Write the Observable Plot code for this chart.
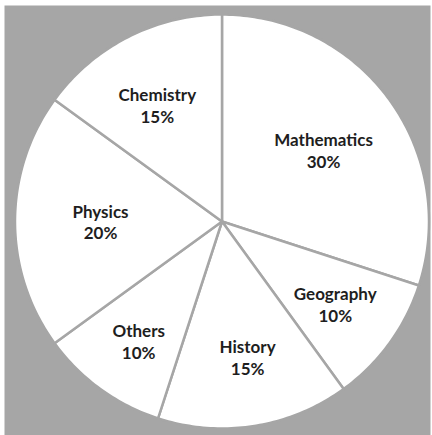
<!DOCTYPE html>
<html><head><meta charset="utf-8">
<script src="https://cdn.jsdelivr.net/npm/d3@7"></script>
<script src="https://cdn.jsdelivr.net/npm/@observablehq/plot@0.6"></script>
<style>body{margin:0;background:#fff}</style>
</head><body><div id="chart"></div>
<script>
const subjects = ["Mathematics","Geography","History","Others","Physics","Chemistry"];
const shares = [30,10,15,10,20,15];

// layout constants (pixels)
const W = 432, H = 435;
const CX = 221.5, CY = 221, R = 207;
// label placement tweaks: [angle offset in degrees, radius]
const labelTweak = [[1,124],[0,140],[-1.7,138],[-1.2,146],[0,121.5],[-2.1,133]];

const total = d3.sum(shares);
let acc = 0;
const slices = subjects.map((s,i)=>{
  const a0 = acc/total*360; acc += shares[i]; const a1 = acc/total*360;
  return {name:s, value:shares[i], a0, a1, mid:(a0+a1)/2};
});
const pt = (deg, r) => {const a = deg*Math.PI/180; return [CX + r*Math.sin(a), CY - r*Math.cos(a)];};

const polys = [];
slices.forEach((s)=>{
  const n = Math.max(8, Math.ceil((s.a1-s.a0)));
  const pts = [[CX,CY]];
  for (let j=0;j<=n;j++) pts.push(pt(s.a0 + (s.a1-s.a0)*j/n, R));
  pts.push([CX,CY]);
  pts.forEach(p=>polys.push({name:s.name, x:p[0], y:p[1]}));
});
const labels = slices.map((s,i)=>{
  const [x,y] = pt(s.mid + labelTweak[i][0], labelTweak[i][1]);
  return {x, y, text: `${s.name}\n${s.value}%`};
});

const chart = Plot.plot({
  width: W, height: H,
  margin: 0,
  x: {domain:[0,W], axis:null},
  y: {domain:[H,0], axis:null},
  style: {background:"transparent"},
  marks: [
    Plot.frame({fill:"#a6a6a6", stroke:null, insetLeft:4, insetTop:5, insetRight:2}),
    Plot.line(polys, {x:"x", y:"y", z:"name", fill:"#ffffff", stroke:"#a6a6a6", strokeWidth:2.5, strokeLinejoin:"round", curve:"linear"}),
    Plot.text(labels, {x:"x", y:"y", text:"text", fill:"#1e1e1e", fontSize:17, fontWeight:"bold", fontFamily:"Lato", lineHeight:1.28, lineAnchor:"middle", textAnchor:"middle"})
  ]
});
document.getElementById("chart").append(chart);
</script></body></html>
